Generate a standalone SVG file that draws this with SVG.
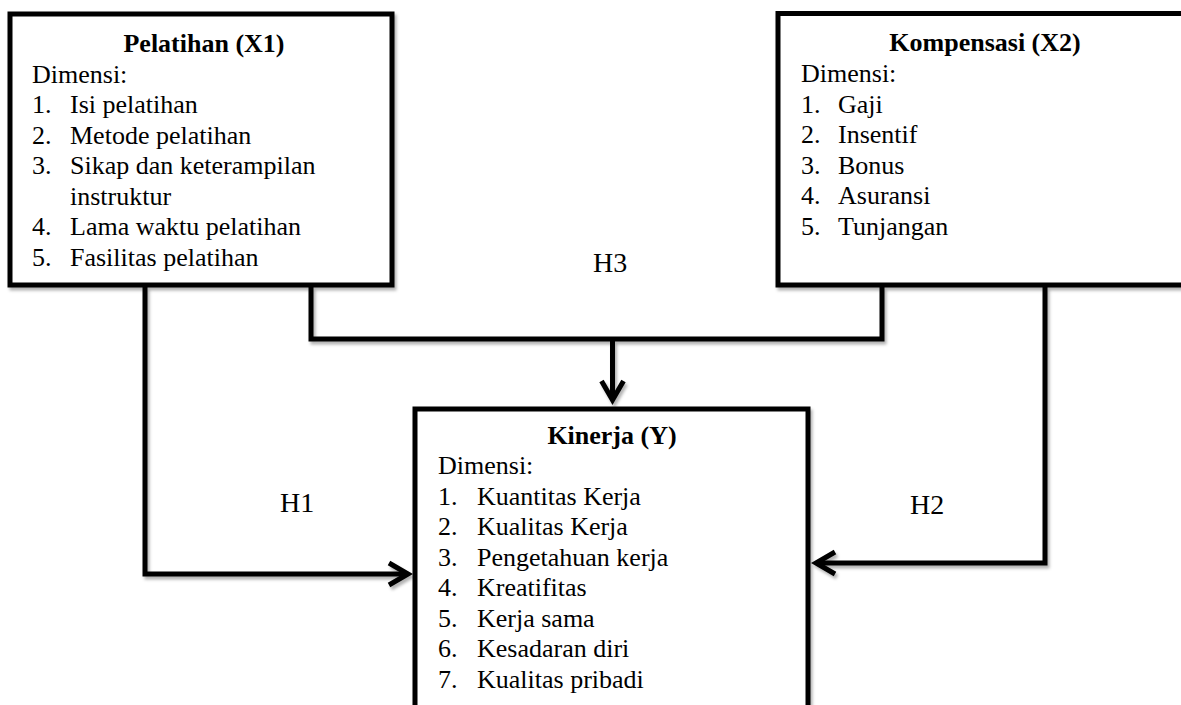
<svg xmlns="http://www.w3.org/2000/svg" width="1181" height="705" viewBox="0 0 1181 705">
<style>
  .box { fill: #fff; stroke: #000; stroke-width: 5; }
  .t { font-family: "Liberation Serif", "Times New Roman", serif; font-size: 26px; fill: #000; }
  .b { font-weight: bold; text-anchor: middle; }
  .lbl { font-family: "Liberation Serif", "Times New Roman", serif; font-size: 28px; fill: #000; }
  .con { fill: none; stroke: #000; stroke-width: 5; stroke-linejoin: miter; }
</style>
<defs>
  <filter id="sh" x="-20%" y="-20%" width="140%" height="140%">
    <feDropShadow dx="2" dy="3" stdDeviation="1.5" flood-color="#000" flood-opacity="0.3"/>
  </filter>
  <marker id="chev" viewBox="-30 -16 36 32" refX="0" refY="0" markerWidth="36" markerHeight="32" orient="auto" markerUnits="userSpaceOnUse">
    <path d="M-19,-11 L0,0 L-19,11" fill="none" stroke="#000" stroke-width="5" stroke-linejoin="miter"/>
  </marker>
</defs>
<rect width="1181" height="705" fill="#fff"/>

<g id="pelatihan">
  <rect class="box" x="10" y="14" width="382" height="271" filter="url(#sh)"/>
  <text class="t b" x="204" y="52">Pelatihan (X1)</text>
  <text class="t" x="32" y="82.5">Dimensi:</text>
  <text class="t" x="32" y="113">1.</text><text class="t" x="70" y="113">Isi pelatihan</text>
  <text class="t" x="32" y="143.5">2.</text><text class="t" x="70" y="143.5">Metode pelatihan</text>
  <text class="t" x="32" y="174">3.</text><text class="t" x="70" y="174">Sikap dan keterampilan</text>
  <text class="t" x="70" y="204.5">instruktur</text>
  <text class="t" x="32" y="235">4.</text><text class="t" x="70" y="235">Lama waktu pelatihan</text>
  <text class="t" x="32" y="265.5">5.</text><text class="t" x="70" y="265.5">Fasilitas pelatihan</text>
</g>

<g id="kompensasi">
  <rect class="box" x="778" y="13.5" width="420" height="271.5" filter="url(#sh)"/>
  <text class="t b" x="985" y="51">Kompensasi (X2)</text>
  <text class="t" x="801" y="82">Dimensi:</text>
  <text class="t" x="801" y="112.5">1.</text><text class="t" x="838" y="112.5">Gaji</text>
  <text class="t" x="801" y="143">2.</text><text class="t" x="838" y="143">Insentif</text>
  <text class="t" x="801" y="173.5">3.</text><text class="t" x="838" y="173.5">Bonus</text>
  <text class="t" x="801" y="204">4.</text><text class="t" x="838" y="204">Asuransi</text>
  <text class="t" x="801" y="234.5">5.</text><text class="t" x="838" y="234.5">Tunjangan</text>
</g>

<g id="kinerja">
  <rect class="box" x="415" y="409" width="393" height="400" filter="url(#sh)"/>
  <text class="t b" x="612" y="444">Kinerja (Y)</text>
  <text class="t" x="438" y="474">Dimensi:</text>
  <text class="t" x="438" y="504.5">1.</text><text class="t" x="477" y="504.5">Kuantitas Kerja</text>
  <text class="t" x="438" y="535">2.</text><text class="t" x="477" y="535">Kualitas Kerja</text>
  <text class="t" x="438" y="565.5">3.</text><text class="t" x="477" y="565.5">Pengetahuan kerja</text>
  <text class="t" x="438" y="596">4.</text><text class="t" x="477" y="596">Kreatifitas</text>
  <text class="t" x="438" y="626.5">5.</text><text class="t" x="477" y="626.5">Kerja sama</text>
  <text class="t" x="438" y="657">6.</text><text class="t" x="477" y="657">Kesadaran diri</text>
  <text class="t" x="438" y="687.5">7.</text><text class="t" x="477" y="687.5">Kualitas pribadi</text>
</g>

<g id="connectors" filter="url(#sh)">
  <path class="con" d="M145,287 V574 H408" marker-end="url(#chev)"/>
  <path class="con" d="M311,287 V339 H882 V287"/>
  <path class="con" d="M612.5,339 V400" marker-end="url(#chev)"/>
  <path class="con" d="M1045,287 V563 H816" marker-end="url(#chev)"/>
</g>

<g id="labels">
  <text class="lbl" x="280" y="512">H1</text>
  <text class="lbl" x="910" y="514">H2</text>
  <text class="lbl" x="593" y="272">H3</text>
</g>
</svg>
